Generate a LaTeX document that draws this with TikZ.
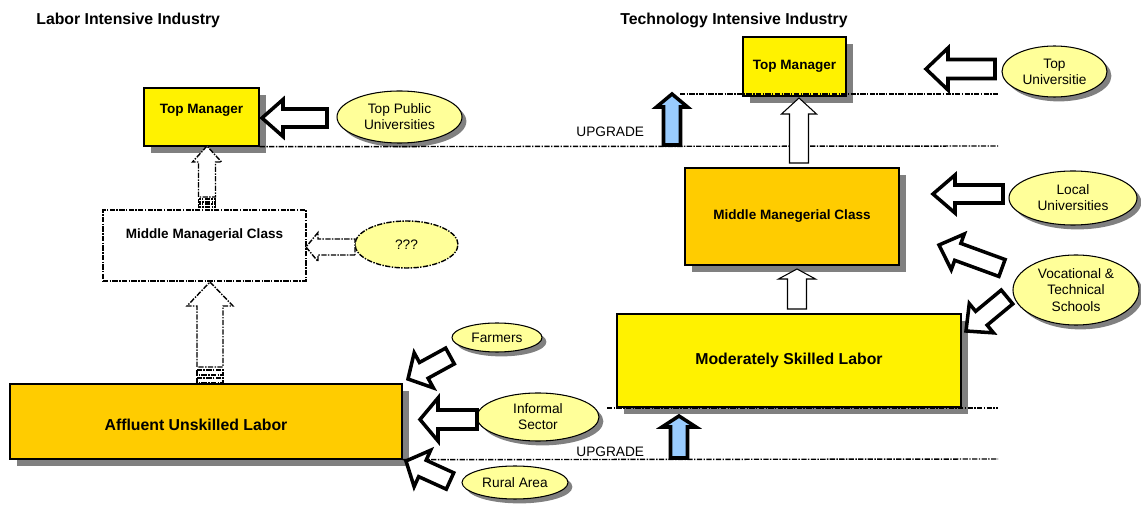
\documentclass[tikz,border=0pt]{standalone}
\usepackage{fontspec}
\setmainfont{Liberation Sans}
\usetikzlibrary{shapes.geometric, positioning, calc, shadows}

\definecolor{boxyellow}{RGB}{255,242,0}
\definecolor{boxorange}{RGB}{255,204,0}
\definecolor{ellfill}{RGB}{255,255,153}
\definecolor{upblue}{RGB}{153,204,255}
\definecolor{shadowgray}{RGB}{128,128,128}

\newcommand{\titlefont}{\fontsize{9}{11}\selectfont\bfseries}
\newcommand{\boxfont}{\fontsize{9}{11}\selectfont\bfseries}
\newcommand{\smallboxfont}{\fontsize{7.7}{9}\selectfont\bfseries}
\newcommand{\ellfont}{\fontsize{7.8}{9.2}\selectfont}

% hollow block arrow: [style]{tail}{tip}{shaft half width}{head half width}{head length}
\newcommand{\blockarrow}[6][]{%
  \coordinate (ba-base) at ($(#3)!#6!(#2)$);
  \draw[#1] ($(#2)!#4!90:(#3)$) -- ($(ba-base)!#4!90:(#3)$) -- ($(ba-base)!#5!90:(#3)$) -- (#3)
    -- ($(ba-base)!#5!-90:(#3)$) -- ($(ba-base)!#4!-90:(#3)$) -- ($(#2)!#4!-90:(#3)$) -- cycle;
}

\begin{document}
\begin{tikzpicture}[x=0.2mm, y=-0.2mm,
    dashdot/.style={dash pattern=on 3pt off 0.8pt on 0.8pt off 0.8pt},
    skillbox/.style={rectangle, draw=black, line width=0.8pt, inner sep=0pt,
      drop shadow={shadow xshift=4pt, shadow yshift=-4pt, fill=shadowgray, opacity=1}},
    sourceell/.style={ellipse, draw=black, line width=0.6pt, fill=ellfill, inner sep=0pt,
      align=center, font=\ellfont,
      drop shadow={shadow xshift=2.5pt, shadow yshift=-2.5pt, fill=shadowgray, opacity=1}},
    fatarrow/.style={draw=black, line width=2pt, fill=white},
    uparrow/.style={fatarrow, fill=upblue},
    thinarrow/.style={draw=black, line width=0.6pt, fill=white},
    dasharrow/.style={thinarrow, line width=0.8pt, dashdot},
    level/.style={line width=0.8pt, dashdot}]
  \useasboundingbox (0,0) rectangle (1141,506);

  % headings
  \node[anchor=west, inner sep=0pt, font=\titlefont] (lab-title) at (36,20) {Labor Intensive Industry};
  \node[anchor=west, inner sep=0pt, font=\titlefont] (tech-title) at (620,20) {Technology Intensive Industry};

  % labor intensive side
  \node[skillbox, fill=boxyellow, minimum width=23mm, minimum height=11.6mm] (tml) at (201.5,117) {};
  \node[font=\smallboxfont] (tml-txt) at ($(tml.center)+(0,-7)$) {Top Manager};
  \node[rectangle, draw=black, line width=0.8pt, dashdot, fill=white, minimum width=40.6mm, minimum height=14.2mm] (mml) at (204.5,245.5) {};
  \node[font=\smallboxfont] (mml-txt) at ($(mml.center)+(0,-10)$) {Middle Managerial Class};
  \node[skillbox, fill=boxorange, minimum width=78.4mm, minimum height=15mm] (aul) at (206,421.5) {};
  \node[font=\boxfont] (aul-txt) at ($(aul.center)+(-10,3)$) {Affluent Unskilled Labor};

  \node[sourceell, minimum width=25mm, minimum height=10.4mm] (tpu) at (399.5,117) {Top Public\\Universities};
  \node[ellipse, draw=black, line width=0.8pt, dashdot, fill=ellfill, inner sep=0pt, font=\ellfont,
    minimum width=20.6mm, minimum height=9.4mm] (qqq) at (406.5,244.5) {???};
  \node[sourceell, minimum width=18mm, minimum height=5.8mm] (farm) at (497,337.5) {Farmers};
  \node[sourceell, minimum width=24.4mm, minimum height=9.6mm] (inf) at (538,417) {Informal\\Sector};
  \node[sourceell, minimum width=21.2mm, minimum height=6.6mm] (rural) at (515,482.5) {Rural Area};

  % technology intensive side
  \node[skillbox, fill=boxyellow, minimum width=20.6mm, minimum height=11.8mm, font=\smallboxfont] (tmr) at (794.5,66.5) {Top Manager};
  \node[skillbox, fill=boxorange, minimum width=42.8mm, minimum height=19.4mm, font=\smallboxfont] (mmr) at (792,216.5) {Middle Manegerial Class};
  \node[skillbox, fill=boxyellow, minimum width=68.8mm, minimum height=18.6mm, font=\boxfont] (msl) at (789,360.5) {Moderately Skilled Labor};

  \node[sourceell, minimum width=21mm, minimum height=10.2mm] (tu) at (1054.5,71.5) {Top\\Universitie};
  \node[sourceell, minimum width=25.6mm, minimum height=10.8mm] (lu) at (1073,198) {Local\\Universities};
  \node[sourceell, minimum width=25.2mm, minimum height=14mm] (vts) at (1076,290) {Vocational \&\\Technical\\Schools};

  % level lines
  \draw[level] (tml.south east) -- (998,146);
  \draw[level] (680,94) -- (998,94);
  \draw[level] (607,408) -- (998,408);
  \draw[level] (aul.south east) -- (998,459);
  \node[anchor=west, inner sep=0pt, font=\ellfont] (up-top) at (576,132) {UPGRADE};
  \node[anchor=west, inner sep=0pt, font=\ellfont] (up-bot) at (576,452) {UPGRADE};

  % arrow ends
  \coordinate (tpu-a) at (327,118);   \coordinate (tml-a) at (262,118);
  \coordinate (qqq-a) at (355,247);   \coordinate (mml-a) at (306,247);
  \coordinate (mml-b) at (207,197);   \coordinate (tml-b) at (207,146);
  \coordinate (aul-b) at (210,367);   \coordinate (mml-c) at (210,282);
  \coordinate (farm-a) at (450,356);  \coordinate (aul-f) at (408,379);
  \coordinate (inf-a) at (477,419.5); \coordinate (aul-i) at (420,419.5);
  \coordinate (rural-a) at (450,481); \coordinate (aul-r) at (406,461);
  \coordinate (tu-a) at (995,69);     \coordinate (tmr-a) at (926,69);
  \coordinate (lu-a) at (1003,194);   \coordinate (mmr-a) at (933,194);
  \coordinate (vts-a) at (1002,268);  \coordinate (mmr-v) at (939,245);
  \coordinate (vts-b) at (1007,297);  \coordinate (msl-v) at (966,331);
  \coordinate (msl-b) at (797,309);   \coordinate (mmr-b) at (797,269);
  \coordinate (mmr-c) at (799,163);   \coordinate (tmr-b) at (799,98);
  \coordinate (up1-a) at (672,145);   \coordinate (up1-b) at (672,94);
  \coordinate (up2-a) at (679,458);   \coordinate (up2-b) at (679,416);

  % inputs into the labor side
  \blockarrow[fatarrow]{tpu-a}{tml-a}{1.8mm}{3.7mm}{4.2mm}
  \blockarrow[dasharrow]{qqq-a}{mml-a}{1.6mm}{2.9mm}{2.4mm}
  \blockarrow[fatarrow]{farm-a}{aul-f}{1.8mm}{4mm}{3.6mm}
  \blockarrow[fatarrow]{inf-a}{aul-i}{1.9mm}{4.3mm}{3.6mm}
  \blockarrow[fatarrow]{rural-a}{aul-r}{1.8mm}{4mm}{3.6mm}

  % striped promotion arrows
  \blockarrow[dasharrow]{mml-b}{tml-b}{1.7mm}{2.9mm}{3.2mm}
  \draw[dasharrow] (198.5,199) rectangle (215.5,202);
  \draw[dasharrow] (198.5,204) rectangle (215.5,207);
  \blockarrow[dasharrow]{aul-b}{mml-c}{2.6mm}{4.6mm}{4.8mm}
  \draw[dasharrow] (197,370) rectangle (223,375);
  \draw[dasharrow] (197,378) rectangle (223,383);

  % inputs into the technology side
  \blockarrow[fatarrow]{tu-a}{tmr-a}{1.9mm}{4.2mm}{4.4mm}
  \blockarrow[fatarrow]{lu-a}{mmr-a}{1.8mm}{3.8mm}{4.4mm}
  \blockarrow[fatarrow]{vts-a}{mmr-v}{1.8mm}{3.8mm}{4mm}
  \blockarrow[fatarrow]{vts-b}{msl-v}{1.8mm}{3.8mm}{4mm}
  \blockarrow[thinarrow]{msl-b}{mmr-b}{1.9mm}{3.7mm}{2mm}
  \blockarrow[thinarrow]{mmr-c}{tmr-b}{1.9mm}{3.5mm}{3.2mm}

  % upgrade arrows
  \blockarrow[uparrow]{up1-a}{up1-b}{1.7mm}{3.1mm}{2.6mm}
  \blockarrow[uparrow]{up2-a}{up2-b}{1.7mm}{3.4mm}{2.2mm}
\end{tikzpicture}
\end{document}
